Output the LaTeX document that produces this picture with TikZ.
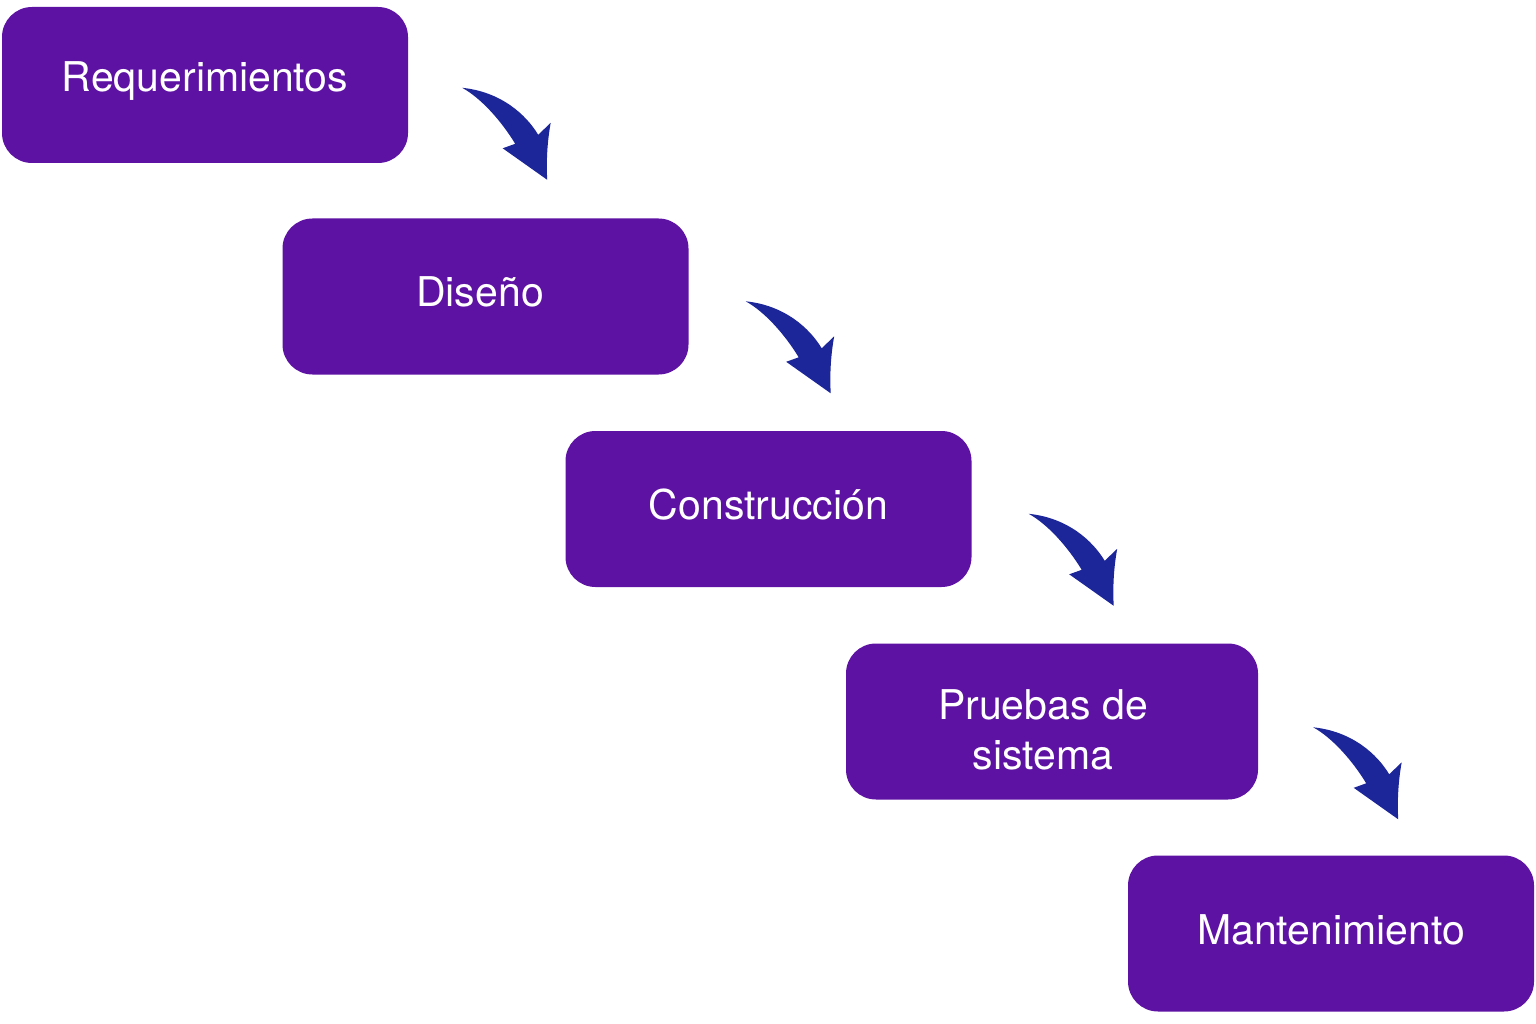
\documentclass[tikz,border=0pt]{standalone}
\usepackage{fontspec}
\setmainfont{TeX Gyre Heros}
\definecolor{boxpurple}{RGB}{94,18,164}
\definecolor{arrowblue}{RGB}{28,38,152}
\newcommand{\basetext}[2]{\raisebox{-#1}[0pt][0pt]{#2}}
\tikzset{
  phase/.style={fill=boxpurple, draw=none, rounded corners=30pt, text=white,
    minimum width=406pt, minimum height=156pt, inner sep=0pt, align=center,
    font=\fontsize{41}{50}\selectfont},
  bentarrow/.pic={
    \fill[arrowblue] (11,8) .. controls (50,12) and (75,35) .. (87,55)
      -- (99.5,43) .. controls (96,62) and (95,82) .. (96,100)
      -- (51.5,68.5) -- (64,64)
      .. controls (50,41) and (30,18.5) .. (11,8) -- cycle;
  }
}
\begin{document}
\begin{tikzpicture}[x=1pt,y=-1pt]
\useasboundingbox (0,0) rectangle (1536,1024);
\node[phase] (req) at (205,85) {\basetext{6.5pt}{Requerimientos}};
\node[phase] (dis) at (485.5,296.5) {\kern-11pt\basetext{9.5pt}{Diseño}};
\node[phase] (con) at (768.5,509) {\basetext{10pt}{Construcción}};
\node[phase, minimum width=412pt] (pru) at (1052,721.5)
  {\kern-18pt\basetext{47.5pt}{\begin{tabular}[b]{@{}c@{}}Pruebas de\\sistema\end{tabular}}};
\node[phase] (man) at (1331,933.5) {\basetext{10.5pt}{Mantenimiento}};
\coordinate (a1) at ([shift={(43,73)}]req.north east);
\coordinate (a2) at ([shift={(46,75)}]dis.north east);
\coordinate (a3) at ([shift={(46,75)}]con.north east);
\coordinate (a4) at ([shift={(44,76)}]pru.north east);
\pic at (a1) {bentarrow};
\pic at (a2) {bentarrow};
\pic at (a3) {bentarrow};
\pic at (a4) {bentarrow};
\end{tikzpicture}
\end{document}
